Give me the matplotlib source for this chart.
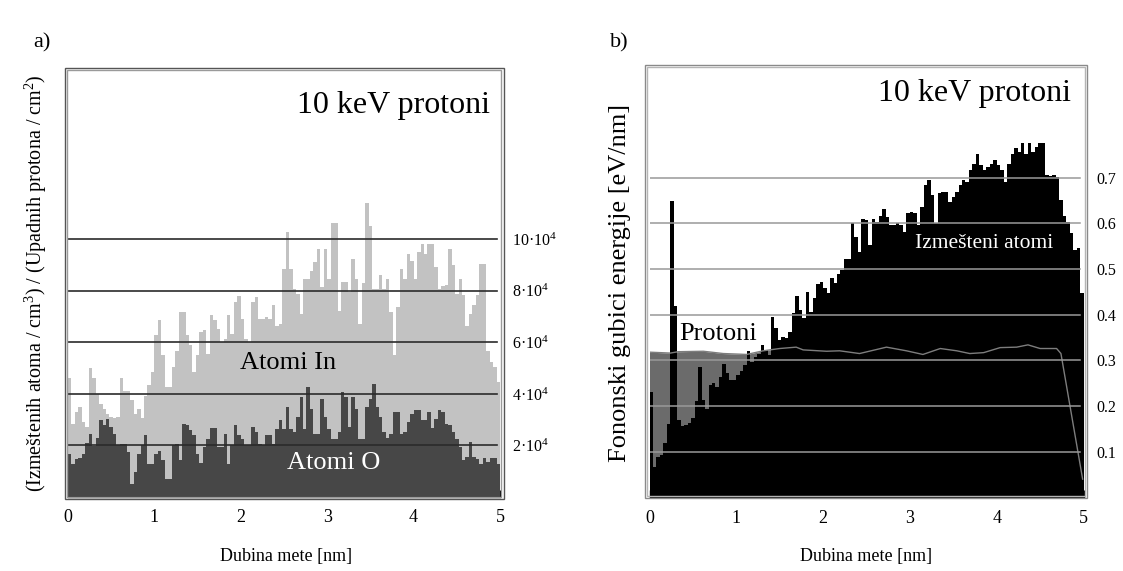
import numpy as np
import matplotlib
matplotlib.use("Agg")
import matplotlib.pyplot as plt
from matplotlib.patches import Rectangle

plt.rcParams["font.family"] = ["Liberation Serif", "DejaVu Serif"]
plt.rcParams["mathtext.fontset"] = "custom"
plt.rcParams["mathtext.rm"] = "Liberation Serif"
plt.rcParams["mathtext.it"] = "Liberation Serif:italic"

# ---------------- data ----------------
n_bins = 125
depth_edges = np.linspace(0.0, 5.0, n_bins + 1)  # nm

# displaced In atoms, units of 1e4
in_atoms = [
    4.6, 2.85, 3.3, 3.5, 2.9, 2.7, 5.0, 4.6, 4.0, 3.6, 3.4, 3.2, 3.1, 3.05, 3.1,
    4.6, 4.1, 4.1, 3.75, 3.2, 3.4, 3.05, 3.9, 4.35, 4.85, 6.27, 6.85, 5.5, 4.26,
    4.26, 5.04, 5.68, 7.17, 7.17, 6.27, 5.88, 4.85, 5.5, 6.4, 6.46, 5.56, 7.04,
    6.85, 6.52, 6.0, 6.14, 7.04, 6.33, 7.56, 7.81, 6.91, 6.14, 6.0, 7.56, 7.75,
    6.91, 6.91, 6.97, 6.91, 7.43, 6.65, 6.72, 8.85, 10.27, 8.85, 8.07, 7.88, 7.1,
    8.46, 8.46, 8.78, 9.1, 9.62, 8.14, 9.62, 8.46, 10.63, 10.63, 7.23, 8.33, 8.33,
    7.95, 9.24, 8.46,
    6.72, 8.3, 11.4, 10.5, 8.07, 8.07, 8.61, 8.07, 8.46, 7.17, 5.49, 7.36, 8.85,
    8.46, 9.43, 9.17, 8.46, 9.49, 9.82, 9.43, 9.82, 9.82, 8.91, 8.07, 8.2, 8.23,
    9.62, 9.0, 7.88, 8.46, 7.82, 6.65, 7.1, 7.43, 7.82, 9.04, 9.04, 5.68, 5.23,
    5.04, 4.45,
]

# displaced O atoms, units of 1e4
o_atoms = [
    1.68, 1.29, 1.48, 1.5, 1.68, 2.1, 2.45, 1.98, 2.28, 2.97, 2.78, 3.03, 2.71,
    2.45, 2.0, 2.07, 2.07, 1.74, 0.52, 0.97, 1.68, 2.03, 2.39, 1.29, 1.29, 1.68,
    1.77, 1.42, 0.71, 0.71, 2.03, 2.07, 1.42, 2.84, 2.78, 2.58, 2.39, 1.68, 1.33,
    1.94, 2.26, 2.67,
    2.67, 1.94, 1.94, 2.45, 1.29, 2.0, 2.78, 2.39, 2.26, 2.0, 2.0, 2.71, 2.52,
    2.07, 2.0, 2.39, 2.39, 2.07, 2.64, 2.97, 2.64, 3.49, 2.64, 2.52, 3.1, 3.87,
    2.64, 4.26, 3.42, 2.45, 2.45, 3.81, 3.1, 2.64, 2.26, 2.26, 2.52, 4.07, 3.87,
    2.71, 3.87, 3.42,
    2.26, 2.26, 3.49, 3.81, 4.39, 3.49, 3.1, 2.52, 2.28, 2.45, 3.29, 3.29, 2.45,
    2.52, 2.9, 3.23, 3.36, 3.36, 2.97, 2.97, 3.29, 2.67, 3.03, 3.36, 3.29, 2.84,
    2.78, 2.52, 2.26, 1.94, 1.42, 1.55, 2.15, 1.55, 1.48, 1.29, 1.5, 1.36, 1.5,
    1.5, 1.29,
]

# phonon energy loss to displaced atoms, eV/nm
phonon_atoms = [
    0.23, 0.066, 0.089, 0.093, 0.12, 0.16, 0.65, 0.42, 0.17, 0.156, 0.158, 0.163,
    0.173, 0.21, 0.286, 0.213, 0.193, 0.246, 0.251, 0.242, 0.264, 0.293, 0.273,
    0.258, 0.258, 0.268, 0.277, 0.29, 0.321, 0.297, 0.308, 0.315, 0.334, 0.323,
    0.312, 0.396, 0.37, 0.345, 0.352, 0.348, 0.363,
    0.404, 0.44, 0.41, 0.392, 0.45, 0.407, 0.436, 0.467, 0.471, 0.458, 0.447,
    0.48, 0.469, 0.49, 0.498, 0.523, 0.523, 0.6, 0.571, 0.538, 0.609, 0.607,
    0.553, 0.609, 0.604, 0.616, 0.632, 0.613, 0.597, 0.597, 0.6, 0.597, 0.582,
    0.623, 0.626, 0.623, 0.597, 0.636, 0.684, 0.695, 0.662, 0.6,
    0.666, 0.669, 0.669, 0.647, 0.658, 0.669, 0.684, 0.695, 0.691, 0.717, 0.731,
    0.753, 0.728, 0.717, 0.724, 0.731, 0.739, 0.728, 0.717, 0.691, 0.731, 0.753,
    0.764, 0.757, 0.777, 0.753, 0.777, 0.757, 0.768, 0.775, 0.777, 0.706, 0.703,
    0.706, 0.702, 0.651, 0.616, 0.604, 0.578, 0.541, 0.547, 0.447,
]

# phonon energy loss of the protons themselves, eV/nm
proton_depth = [0.0, 0.24, 0.33, 0.62, 0.85, 1.12, 1.31, 1.50, 1.69, 1.77, 2.04,
                2.19, 2.42, 2.73, 2.96, 3.15, 3.35, 3.54, 3.69, 3.85, 4.04, 4.23,
                4.36, 4.50, 4.69, 4.74, 4.99]
proton_loss = [0.318, 0.316, 0.319, 0.320, 0.315, 0.313, 0.321, 0.326, 0.329,
               0.323, 0.320, 0.321, 0.315, 0.329, 0.321, 0.313, 0.326, 0.321,
               0.315, 0.317, 0.328, 0.329, 0.334, 0.326, 0.326, 0.315, 0.040]

x_ticks = [0, 1, 2, 3, 4, 5]
left_grid = [2, 4, 6, 8, 10]
left_grid_labels = [r"2·10$^{4}$", r"4·10$^{4}$", r"6·10$^{4}$", r"8·10$^{4}$",
                    r"10·10$^{4}$"]
right_grid = [0.1, 0.2, 0.3, 0.4, 0.5, 0.6, 0.7]
right_grid_labels = ["0.1", "0.2", "0.3", "0.4", "0.5", "0.6", "0.7"]

# ---------------- figure ----------------
W, H = 1123, 571
fig = plt.figure(figsize=(W / 100, H / 100), dpi=100)
fig.patch.set_facecolor("white")


def box(x0, y0, x1, y1):
    """pixel box (top-left origin) -> figure rect"""
    return [x0 / W, 1 - y1 / H, (x1 - x0) / W, (y1 - y0) / H]


def frame(x0, y0, x1, y1, outer, inner):
    fig.patches.append(Rectangle((x0 / W, 1 - y1 / H), (x1 - x0) / W, (y1 - y0) / H,
                                 transform=fig.transFigure, fill=False,
                                 edgecolor=outer, lw=1.0, zorder=0))
    d = 2.5
    fig.patches.append(Rectangle(((x0 + d) / W, 1 - (y1 - d) / H),
                                 (x1 - x0 - 2 * d) / W, (y1 - y0 - 2 * d) / H,
                                 transform=fig.transFigure, fill=False,
                                 edgecolor=inner, lw=1.0, zorder=0))


def style_axis(ax, pad_right):
    for s in ("left", "right", "top"):
        ax.spines[s].set_visible(False)
    ax.spines["bottom"].set_color("black")
    ax.spines["bottom"].set_linewidth(1.0)
    ax.set_facecolor("none")
    ax.set_xlim(0, 5)
    ax.set_xticks(x_ticks)
    ax.set_xticklabels([str(t) for t in x_ticks])
    ax.tick_params(axis="x", direction="in", length=5, width=1, labelsize=13,
                   pad=9, colors="black")
    ax.yaxis.tick_right()
    ax.tick_params(axis="y", length=0, labelsize=11.5, pad=pad_right)


# ---- panel a) ----
frame(64.5, 67.5, 503.5, 499, "#555555", "#9a9a9a")
axL = fig.add_axes(box(68, 69, 500, 497))
axL.stairs(in_atoms, depth_edges, fill=True, color="#c2c2c2", zorder=1)
axL.stairs(o_atoms, depth_edges, fill=True, color="#474747", zorder=2)
for g in left_grid:
    axL.axhline(g, xmin=0, xmax=0.993, color="#2b2b2b", lw=1.2, zorder=3)
axL.set_ylim(0, 16.6)
axL.set_yticks(left_grid)
axL.set_yticklabels(left_grid_labels)
style_axis(axL, 9)

axL.text(4.88, 14.9, "10 keV protoni", ha="right", va="baseline", fontsize=23)
axL.text(2.55, 5.2, "Atomi In", ha="center", va="center", fontsize=19, zorder=4)
axL.text(3.07, 1.3, "Atomi O", ha="center", va="center", fontsize=19,
         color="white", zorder=4)

# ---- panel b) ----
frame(644.5, 64.5, 1087, 498, "#8a8a8a", "#b5b5b5")
axR = fig.add_axes(box(649.5, 65, 1083.5, 497.4))
axR.fill_between(proton_depth, proton_loss, 0, color="#6b6b6b", lw=0, zorder=1)
axR.stairs(phonon_atoms, depth_edges, fill=True, color="black", zorder=2)
axR.plot(proton_depth, proton_loss, color="#7d7d7d", lw=1.0, zorder=3)
for g in right_grid:
    axR.axhline(g, xmin=0, xmax=0.992, color="#999999", lw=1.1, zorder=4)
axR.set_ylim(0, 0.9468)
axR.set_yticks(right_grid)
axR.set_yticklabels(right_grid_labels)
style_axis(axR, 9)

axR.text(4.86, 0.868, "10 keV protoni", ha="right", va="baseline", fontsize=23)
axR.text(0.79, 0.357, "Protoni", ha="center", va="center", fontsize=19, zorder=5)
axR.text(3.85, 0.557, "Izmešteni atomi", ha="center", va="center", fontsize=15.5,
         color="white", zorder=5)

# ---- labels ----
fig.text(33 / W, 1 - 47 / H, "a)", fontsize=16, ha="left", va="baseline")
fig.text(610 / W, 1 - 47 / H, "b)", fontsize=16, ha="left", va="baseline")
fig.text(36 / W, 1 - 283 / H,
         r"(Izmeštenih atoma / cm$^{3}$) / (Upadnih protona / cm$^{2}$)",
         rotation=90, ha="center", va="center", fontsize=14.5)
fig.text(620 / W, 1 - 283 / H, "Fononski gubici energije [eV/nm]",
         rotation=90, ha="center", va="center", fontsize=19)
fig.text(286 / W, 1 - 556 / H, "Dubina mete [nm]", ha="center", va="center",
         fontsize=13)
fig.text(866 / W, 1 - 556 / H, "Dubina mete [nm]", ha="center", va="center",
         fontsize=13)

fig.savefig("out.png", dpi=100)
